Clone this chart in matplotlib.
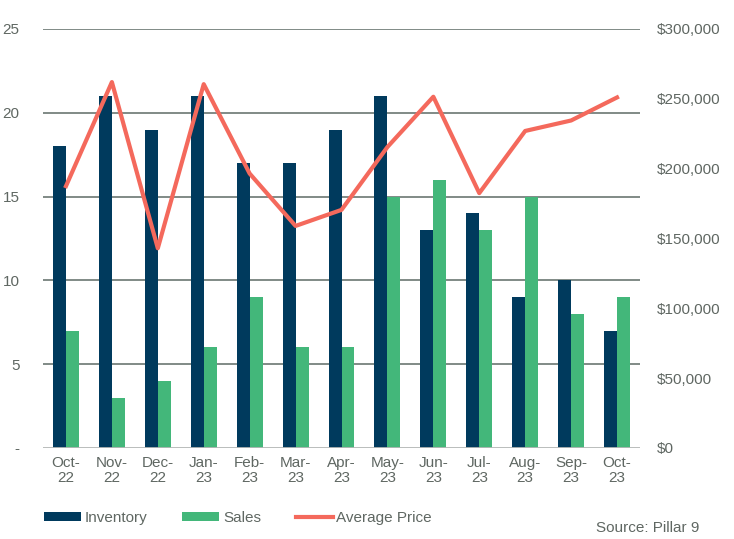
import matplotlib.pyplot as plt
import matplotlib.ticker as mticker
from matplotlib.patches import Patch
from matplotlib.lines import Line2D
import numpy as np

months = ['Oct-\n22', 'Nov-\n22', 'Dec-\n22', 'Jan-\n23', 'Feb-\n23', 'Mar-\n23', 'Apr-\n23',
          'May-\n23', 'Jun-\n23', 'Jul-\n23', 'Aug-\n23', 'Sep-\n23', 'Oct-\n23']
inventory = [18, 21, 19, 21, 17, 17, 19, 21, 13, 14, 9, 10, 7]
sales = [7, 3, 4, 6, 9, 6, 6, 15, 16, 13, 15, 8, 9]
avg_price = [187500, 262000, 143000, 260500, 196500, 159000, 170500,
             215500, 251500, 182500, 227000, 234500, 251000]

NAVY = '#003a5d'
GREEN = '#43b77a'
CORAL = '#f4695c'
TEXT = '#5f6762'
GRID = '#5e6b66'

plt.rcParams['font.family'] = ['Liberation Sans', 'DejaVu Sans']
plt.rcParams['font.size'] = 11

fig = plt.figure(figsize=(7.34, 5.39), dpi=100)
ax = fig.add_axes([43 / 734, 1 - 448 / 539, (640 - 43) / 734, (448 - 29) / 539])
ax2 = ax.twinx()

x = np.arange(len(months))
w = 0.283
ax.bar(x - w / 2, inventory, width=w, color=NAVY, zorder=3)
ax.bar(x + w / 2, sales, width=w, color=GREEN, zorder=3)

ax.set_xlim(-0.5, len(months) - 0.5)
ax.set_ylim(0, 25)
ax.set_yticks([0, 5, 10, 15, 20, 25])
ax.set_yticklabels(['-', '5', '10', '15', '20', '25'])
ax.set_xticks(x)
ax.set_xticklabels(months, linespacing=1.05)
for y in [5, 10, 15, 20, 25]:
    ax.axhline(y, color=GRID, linewidth=1.1, zorder=1)
ax.axhline(0, color='#b4b8b6', linewidth=1.3, zorder=4)

ax2.plot(x, avg_price, color=CORAL, linewidth=3, zorder=5)
ax2.set_ylim(0, 300000)
ax2.set_yticks(np.arange(0, 300001, 50000))
ax2.yaxis.set_major_formatter(mticker.FuncFormatter(lambda v, p: f'${v:,.0f}'))

for a in (ax, ax2):
    for s in a.spines.values():
        s.set_visible(False)
    a.tick_params(length=0, colors=TEXT, labelsize=11)
ax.tick_params(axis='y', pad=17)
ax.tick_params(axis='x', pad=6)
ax2.tick_params(axis='y', pad=12)

handles = [Patch(facecolor=NAVY), Patch(facecolor=GREEN),
           Line2D([0], [0], color=CORAL, linewidth=3)]
leg = fig.legend(handles, ['Inventory', 'Sales', 'Average Price'], loc='center left',
                 bbox_to_anchor=(44 / 734, 1 - 518 / 539), ncol=3, frameon=False,
                 handlelength=2.4, handleheight=0.55, handletextpad=0.25,
                 columnspacing=2.3, borderpad=0, borderaxespad=0, fontsize=11)
for t in leg.get_texts():
    t.set_color(TEXT)

fig.text(699 / 734, 1 - 528 / 539, 'Source: Pillar 9', ha='right', va='center',
         color=TEXT, fontsize=11)

fig.savefig('out.png', dpi=100)
